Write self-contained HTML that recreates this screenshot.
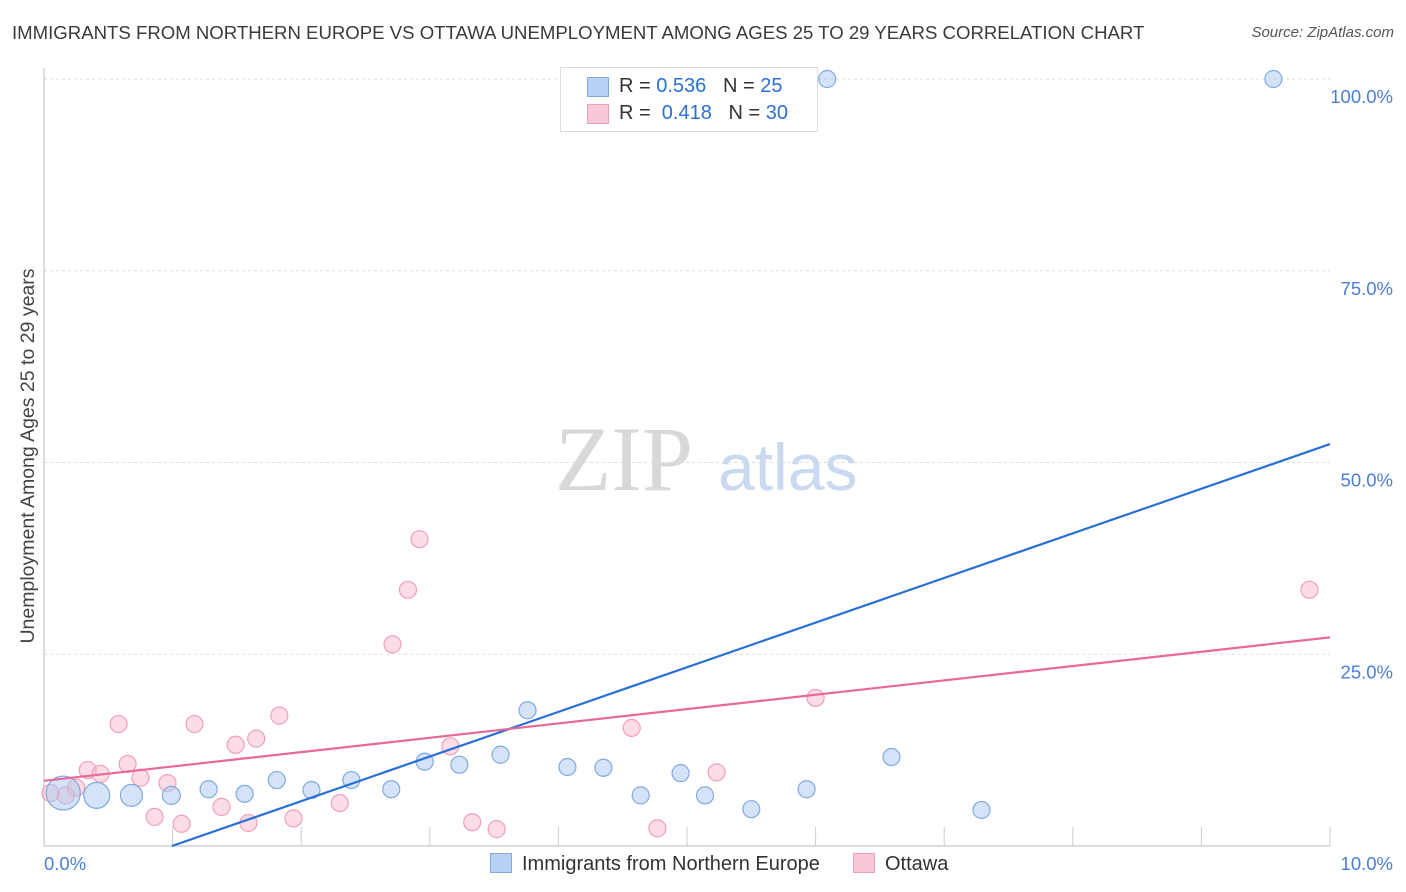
<!DOCTYPE html>
<html><head><meta charset="utf-8"><style>
body{margin:0;background:#fff;font-family:"Liberation Sans",sans-serif;}
#wrap{position:relative;width:1406px;height:892px;overflow:hidden;}
.t{position:absolute;white-space:nowrap;}
</style></head><body>
<div id="wrap">
<div class="t" style="left:12px;top:22px;font-size:18.6px;color:#3a3a3a;">IMMIGRANTS FROM NORTHERN EUROPE VS OTTAWA UNEMPLOYMENT AMONG AGES 25 TO 29 YEARS CORRELATION CHART</div>
<div class="t" style="right:12px;top:24px;font-size:15px;color:#555;font-style:italic;">Source: ZipAtlas.com</div>
<svg id="svg" width="1406" height="892" style="position:absolute;left:0;top:0"></svg>
</div>
<script>
const xTicks=[0,10];
const yTicks=[25,50,75,100];
const blueX=[0.15,0.41,0.68,0.99,1.28,1.56,1.81,2.08,2.39,2.70,2.96,3.23,3.55,3.76,4.07,4.35,4.64,4.95,5.14,5.50,5.93,6.59,7.29,6.09,9.56];
const blueY=[6.9,6.6,6.6,6.6,7.4,6.8,8.6,7.3,8.6,7.4,11.0,10.6,11.9,17.7,10.3,10.2,6.6,9.5,6.6,4.8,7.4,11.6,4.7,100,100];
const blueR=[17,13,11,9,8.5,8.5,8.5,8.5,8.5,8.5,8.5,8.5,8.5,8.5,8.5,8.5,8.5,8.5,8.5,8.5,8.5,8.5,8.5,8.5,8.5];
const pinkX=[0.05,0.17,0.25,0.34,0.44,0.58,0.65,0.75,0.86,0.96,1.07,1.17,1.38,1.49,1.59,1.65,1.83,1.94,2.30,2.71,2.83,2.92,3.16,3.33,3.52,4.57,4.77,5.23,6.00,9.84];
const pinkY=[6.9,6.6,7.6,9.9,9.4,15.9,10.7,8.9,3.8,8.2,2.9,15.9,5.1,13.2,3.0,14.0,17.0,3.6,5.6,26.3,33.4,40.0,13.0,3.1,2.2,15.4,2.3,9.6,19.3,33.4];
const blueLine=[[0.995,0],[10,52.4]];
const pinkLine=[[0,8.5],[10,27.2]];
const X=v=>44+v*128.6, Y=v=>846-v*7.67;
const svg=document.getElementById('svg');const NS='http://www.w3.org/2000/svg';
function mk(t,a){const e=document.createElementNS(NS,t);for(const k in a)e.setAttribute(k,a[k]);svg.appendChild(e);return e;}
let w=mk('text',{x:555,y:490,'font-size':92,fill:'#d8d8d8','font-family':'Liberation Serif,serif'});w.textContent='ZIP';


w=mk('text',{x:718,y:490,'font-size':66,fill:'#c9d9f0','font-family':'Liberation Sans,sans-serif'});w.textContent='atlas';


yTicks.forEach(v=>{let g=mk('line',{x1:44,x2:1330,y1:Y(v),y2:Y(v),stroke:'#ddd','stroke-dasharray':'3,3'});


let t=mk('text',{x:1393,y:Y(v)+24,'text-anchor':'end','font-size':18.5,fill:'#4a7fd8'});t.textContent=v.toFixed(1)+'%';

});
let ax=mk('line',{x1:44,x2:44,y1:68,y2:846,stroke:'#bbb'});


ax=mk('line',{x1:44,x2:1330,y1:846,y2:846,stroke:'#bbb'});


for(let i=1;i<=10;i++){let tk=mk('line',{x1:44+i*128.6,x2:44+i*128.6,y1:827,y2:846,stroke:'#ccc'});

}
xTicks.forEach((v,i)=>{let t=mk('text',{x:i==0?44:1393,y:870,'text-anchor':i==0?'start':'end','font-size':18.5,fill:'#4a7fd8'});t.textContent=v.toFixed(1)+'%';

});
let yt=mk('text',{x:0,y:0,'font-size':19.5,fill:'#444','text-anchor':'middle',transform:'translate(34,456) rotate(-90)'});yt.textContent='Unemployment Among Ages 25 to 29 years';


pinkX.forEach((x,i)=>{let c=mk('circle',{cx:X(x),cy:Y(pinkY[i]),r:8.5,fill:'rgba(248,180,200,0.45)',stroke:'#f0a0b8','stroke-width':1.2});

});
blueX.forEach((x,i)=>{let c=mk('circle',{cx:X(x),cy:Y(blueY[i]),r:blueR[i],fill:'rgba(170,200,240,0.5)',stroke:'#80aae0','stroke-width':1.2});

});
let l=mk('line',{x1:X(blueLine[0][0]),y1:Y(blueLine[0][1]),x2:X(blueLine[1][0]),y2:Y(blueLine[1][1]),stroke:'#2a6fd6','stroke-width':2.2});


l=mk('line',{x1:X(pinkLine[0][0]),y1:Y(pinkLine[0][1]),x2:X(pinkLine[1][0]),y2:Y(pinkLine[1][1]),stroke:'#e8689a','stroke-width':2.2});


</script>
<div style="position:absolute;left:560px;top:67px;width:256px;height:63px;border:1px solid #ddd;background:#fff;font-size:20px;color:#333;">
 <div style="position:absolute;left:26px;top:9px;width:20px;height:18px;background:#b8d0f3;border:1px solid #80aae0;"></div>
 <div class="t" style="left:58px;top:7px;">R = <span style="color:#2a6fd6">0.536</span>&nbsp;&nbsp;&nbsp;N = <span style="color:#2a6fd6">25</span></div>
 <div style="position:absolute;left:26px;top:36px;width:20px;height:18px;background:#f8c8d6;border:1px solid #f0a0b8;"></div>
 <div class="t" style="left:58px;top:34px;">R = &nbsp;<span style="color:#2a6fd6">0.418</span>&nbsp;&nbsp;&nbsp;N = <span style="color:#2a6fd6">30</span></div>
</div>
<div style="position:absolute;left:490px;top:853px;font-size:20px;color:#333;">
 <span style="display:inline-block;width:20px;height:18px;background:#b8d0f3;border:1px solid #80aae0;vertical-align:-3px;margin-right:10px;"></span>Immigrants from Northern Europe</div>
<div style="position:absolute;left:853px;top:853px;font-size:20px;color:#333;">
 <span style="display:inline-block;width:20px;height:18px;background:#f8c8d6;border:1px solid #f0a0b8;vertical-align:-3px;margin-right:10px;"></span>Ottawa</div>
</body></html>
